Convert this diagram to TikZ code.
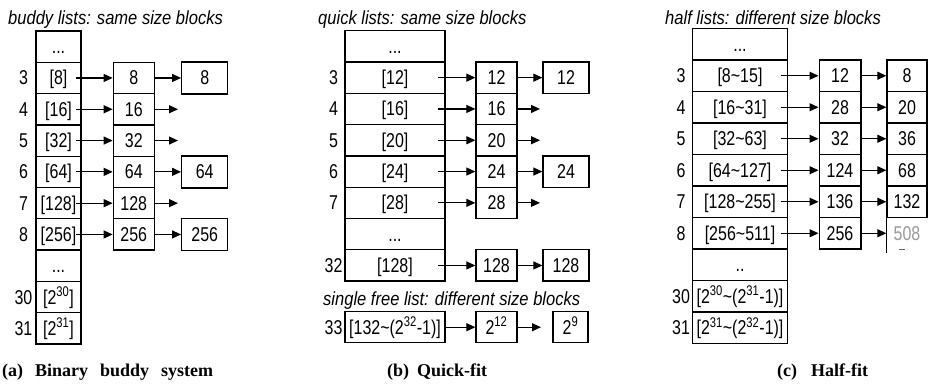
\documentclass[tikz,border=0pt]{standalone}
\usepackage{fontspec}
\setmainfont{Liberation Sans}[FakeStretch=0.8]
\newfontfamily\ttlfont{Liberation Sans}[FakeStretch=0.87]
\newfontfamily\capfont{Liberation Serif}
\usetikzlibrary{arrows.meta}
\newcommand\labsize{\fontsize{20}{20}\selectfont}
\newcommand\ttlsize{\fontsize{19}{19}\selectfont}
\newcommand\capsize{\fontsize{18}{18}\selectfont}
\newcommand\tl{\textasciitilde}
\begin{document}
\begin{tikzpicture}[x=1pt,y=-1pt,
  cell/.style={draw, line width=1.3pt, inner sep=0pt, text height=14pt, text depth=0pt, font=\labsize},
  acol/.style={cell, minimum width=45pt, minimum height=31.3pt},
  abcol/.style={cell, minimum width=41pt, minimum height=31.3pt},
  accol/.style={cell, minimum width=46pt, minimum height=32pt},
  bcol/.style={cell, minimum width=100pt, minimum height=31.3pt},
  bbcol/.style={cell, minimum width=41pt, minimum height=31.3pt},
  bccol/.style={cell, minimum width=46pt, minimum height=31.3pt},
  ccol/.style={cell, minimum width=94.6pt, minimum height=31.5pt},
  cbcol/.style={cell, minimum width=41.7pt, minimum height=31.5pt},
  cccol/.style={cell, minimum width=40pt, minimum height=31.5pt},
  rowlab/.style={inner sep=0pt, text height=14pt, text depth=0pt, font=\labsize},
  ttl/.style={inner sep=0pt, anchor=base west, font=\ttlfont\itshape\ttlsize},
  capt/.style={inner sep=0pt, anchor=base west, font=\capfont\bfseries\capsize},
  arr/.style={line width=1.2pt, -{Triangle[length=9pt,width=8pt]}},
]
\useasboundingbox (0,0) rectangle (928,384);

% ---------------- panel (a) ----------------
\node[ttl] (ta) at (8,24) {buddy lists: same size blocks};
\node[acol] (a0) at (58.5,46.65) {...};
\node[acol] (a1) at (58.5,77.95) {{[8]}};
\node[acol] (a2) at (58.5,109.25) {{[16]}};
\node[acol] (a3) at (58.5,140.55) {{[32]}};
\node[acol] (a4) at (58.5,171.85) {{[64]}};
\node[acol] (a5) at (58.5,203.15) {{[128]}};
\node[acol] (a6) at (58.5,234.45) {{[256]}};
\node[acol] (a7) at (58.5,265.75) {...};
\node[acol] (a8) at (58.5,297.05) {{[2\textsuperscript{30}]}};
\node[acol] (a9) at (58.5,328.35) {{[2\textsuperscript{31}]}};
\node[rowlab] (la1) at (23.5,77.95) {3};
\node[rowlab] (la2) at (23.5,109.25) {4};
\node[rowlab] (la3) at (23.5,140.55) {5};
\node[rowlab] (la4) at (23.5,171.85) {6};
\node[rowlab] (la5) at (23.5,203.15) {7};
\node[rowlab] (la6) at (23.5,234.45) {8};
\node[rowlab] (la8) at (23.5,297.05) {30};
\node[rowlab] (la9) at (23.5,328.35) {31};
\node[abcol] (ab1) at (133.8,77.95) {8};
\node[abcol] (ab2) at (133.8,109.25) {16};
\node[abcol] (ab3) at (133.8,140.55) {32};
\node[abcol] (ab4) at (133.8,171.85) {64};
\node[abcol] (ab5) at (133.8,203.15) {128};
\node[abcol] (ab6) at (133.8,234.45) {256};
\node[accol] (ac1) at (204.7,77.95) {8};
\node[accol] (ac4) at (204.7,171.85) {64};
\node[accol] (ac6) at (204.7,234.45) {256};
\coordinate (ae2) at (178,109.25);
\coordinate (ae3) at (178,140.55);
\coordinate (ae5) at (178,203.15);
\foreach \i in {1,...,6} { \draw[arr] ([xshift=-6pt]a\i.east) -- (ab\i.west); }
\draw[arr] (ab1.east) -- (ac1.west);
\draw[arr] (ab2.east) -- (ae2);
\draw[arr] (ab3.east) -- (ae3);
\draw[arr] (ab4.east) -- (ac4.west);
\draw[arr] (ab5.east) -- (ae5);
\draw[arr] (ab6.east) -- (ac6.west);
\node[capt] (capa) at (2,376) {(a)\hspace{12pt}Binary\hspace{12pt}buddy\hspace{12pt}system};

% ---------------- panel (b) ----------------
\node[ttl] (tb) at (318,24) {quick lists: same size blocks};
\node[bcol] (b0) at (395,46.35) {...};
\node[bcol] (b1) at (395,77.65) {{[12]}};
\node[bcol] (b2) at (395,108.95) {{[16]}};
\node[bcol] (b3) at (395,140.25) {{[20]}};
\node[bcol] (b4) at (395,171.55) {{[24]}};
\node[bcol] (b5) at (395,202.85) {{[28]}};
\node[bcol] (b6) at (395,234.15) {...};
\node[bcol] (b7) at (395,265.45) {{[128]}};
\node[rowlab] (lb1) at (333.5,77.65) {3};
\node[rowlab] (lb2) at (333.5,108.95) {4};
\node[rowlab] (lb3) at (333.5,140.25) {5};
\node[rowlab] (lb4) at (333.5,171.55) {6};
\node[rowlab] (lb5) at (333.5,202.85) {7};
\node[rowlab] (lb7) at (333.5,265.45) {32};
\node[bbcol] (bb1) at (496.5,77.65) {12};
\node[bbcol] (bb2) at (496.5,108.95) {16};
\node[bbcol] (bb3) at (496.5,140.25) {20};
\node[bbcol] (bb4) at (496.5,171.55) {24};
\node[bbcol] (bb5) at (496.5,202.85) {28};
\node[bbcol] (bb7) at (496.5,265.45) {128};
\node[bccol] (bc1) at (566,77.65) {12};
\node[bccol] (bc4) at (566,171.55) {24};
\node[bccol] (bc7) at (566,265.45) {128};
\coordinate (be2) at (540,108.95);
\coordinate (be3) at (540,140.25);
\coordinate (be5) at (540,202.85);
\foreach \i in {1,2,3,4,5,7} { \draw[arr] ([xshift=-7.3pt]b\i.east) -- (bb\i.west); }
\draw[arr] (bb1.east) -- (bc1.west);
\draw[arr] (bb2.east) -- (be2);
\draw[arr] (bb3.east) -- (be3);
\draw[arr] (bb4.east) -- (bc4.west);
\draw[arr] (bb5.east) -- (be5);
\draw[arr] (bb7.east) -- (bc7.west);
\node[ttl] (tsb) at (323,305) {single free list: different size blocks};
\node[rowlab] (lq) at (333.5,327.2) {33};
\node[cell, minimum width=100pt, minimum height=31pt] (q0) at (395,327.2) {{[132\tl(2\textsuperscript{32}-1)]}};
\node[cell, minimum width=41pt, minimum height=31pt] (q1) at (496.5,327.2) {2\textsuperscript{12}};
\node[cell, minimum width=35pt, minimum height=31pt] (q2) at (570.5,327.2) {2\textsuperscript{9}};
\coordinate (qe) at (541,327.2);
\draw[arr] (q0.east) -- (q1.west);
\draw[arr] (q1.east) -- (qe);
\node[capt] (capb) at (387,376) {(b)\hspace{8pt}Quick-fit};

% ---------------- panel (c) ----------------
\node[ttl] (tc) at (665,24) {half lists: different size blocks};
\node[ccol] (c0) at (740,44.25) {...};
\node[ccol] (c1) at (740,75.75) {{[8\tl15]}};
\node[ccol] (c2) at (740,107.25) {{[16\tl31]}};
\node[ccol] (c3) at (740,138.75) {{[32\tl63]}};
\node[ccol] (c4) at (740,170.25) {{[64\tl127]}};
\node[ccol] (c5) at (740,201.75) {{[128\tl255]}};
\node[ccol] (c6) at (740,233.25) {{[256\tl511]}};
\node[ccol] (c7) at (740,264.75) {..};
\node[ccol] (c8) at (740,296.25) {{[2\textsuperscript{30}\tl(2\textsuperscript{31}-1)]}};
\node[ccol] (c9) at (740,327.75) {{[2\textsuperscript{31}\tl(2\textsuperscript{32}-1)]}};
\node[rowlab] (lc1) at (681,75.75) {3};
\node[rowlab] (lc2) at (681,107.25) {4};
\node[rowlab] (lc3) at (681,138.75) {5};
\node[rowlab] (lc4) at (681,170.25) {6};
\node[rowlab] (lc5) at (681,201.75) {7};
\node[rowlab] (lc6) at (681,233.25) {8};
\node[rowlab] (lc8) at (681,296.25) {30};
\node[rowlab] (lc9) at (681,327.75) {31};
\node[cbcol] (cb1) at (840,75.75) {12};
\node[cbcol] (cb2) at (840,107.25) {28};
\node[cbcol] (cb3) at (840,138.75) {32};
\node[cbcol] (cb4) at (840,170.25) {124};
\node[cbcol] (cb5) at (840,201.75) {136};
\node[cbcol] (cb6) at (840,233.25) {256};
\node[cccol] (cc1) at (907,75.75) {8};
\node[cccol] (cc2) at (907,107.25) {20};
\node[cccol] (cc3) at (907,138.75) {36};
\node[cccol] (cc4) at (907,170.25) {68};
\node[cccol] (cc5) at (907,201.75) {132};
\node[cccol, draw=none, text=black!40] (cc6) at (907,233.25) {508};
\draw[line width=1.3pt] (cc6.north west) -- ([yshift=-3pt]cc6.south west);
\draw[line width=1.3pt, black!60] ([xshift=13pt]cc6.south west) -- ([xshift=19pt]cc6.south west);
\foreach \i in {1,...,6} { \draw[arr] ([xshift=-7.3pt]c\i.east) -- (cb\i.west); }
\foreach \i in {1,...,6} { \draw[arr] (cb\i.east) -- (cc\i.west); }
\node[capt] (capc) at (777,376) {(c)\hspace{14pt}Half-fit};
\end{tikzpicture}
\end{document}
